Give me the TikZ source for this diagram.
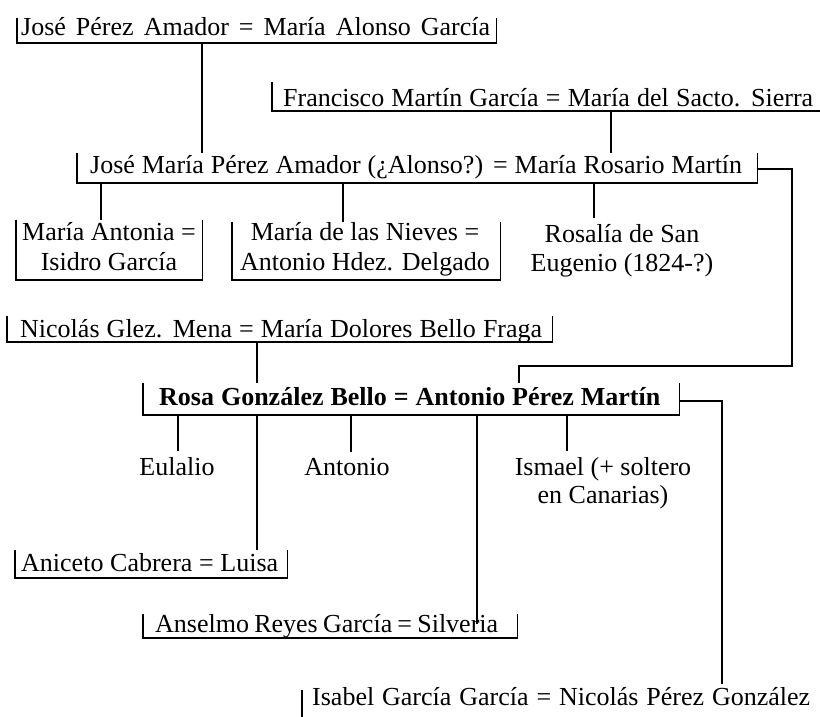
\documentclass[tikz,border=0pt]{standalone}
\usepackage{fontspec}
\setmainfont{Liberation Serif}
\newcommand\spread[2]{\makebox[#1][s]{#2}}
\begin{document}
\begin{tikzpicture}[x=1pt,y=-1pt,
  lbl/.style={font=\fontsize{26}{30}\selectfont, inner sep=0pt, anchor=base west},
  kid/.style={font=\fontsize{26}{30}\selectfont, inner xsep=0pt, inner ysep=6pt, anchor=base, align=center},
  frm/.style={rectangle, inner sep=0pt, anchor=south west},
  ln/.style={line width=1.2pt}]
\useasboundingbox[fill=white] (0,0) rectangle (820,716);

% frames (open-top boxes)
\node[frm, minimum width=479pt, minimum height=25pt] (b1) at (17,43) {};
\node[frm, minimum width=548pt, minimum height=29pt] (b2) at (272,111) {};
\node[frm, minimum width=680pt, minimum height=30pt] (b3) at (77,183) {};
\node[frm, minimum width=186pt, minimum height=60pt] (b4) at (16,280) {};
\node[frm, minimum width=268pt, minimum height=58pt] (b5) at (232,280) {};
\node[frm, minimum width=545pt, minimum height=26pt] (b7) at (7,342) {};
\node[frm, minimum width=536pt, minimum height=32pt] (b8) at (143,415) {};
\node[frm, minimum width=272pt, minimum height=28pt] (b9) at (15,578) {};
\node[frm, minimum width=374pt, minimum height=24pt] (b10) at (143,638) {};
\node[frm, minimum width=516pt, minimum height=28pt] (b12) at (302,718) {};

\draw[ln] (b1.north west) -- (b1.south west) -- (b1.south east) -- (b1.north east);
\draw[ln] (b2.north west) -- (b2.south west) -- (b2.south east);
\draw[ln] (b3.north west) -- (b3.south west) -- (b3.south east) -- (b3.north east);
\draw[ln] (b4.north west) -- (b4.south west) -- (b4.south east) -- (b4.north east);
\draw[ln] (b5.north west) -- (b5.south west) -- (b5.south east) -- (b5.north east);
\draw[ln] (b7.north west) -- (b7.south west) -- (b7.south east) -- (b7.north east);
\draw[ln] (b8.north west) -- (b8.south west) -- (b8.south east) -- (b8.north east);
\draw[ln] (b9.north west) -- (b9.south west) -- (b9.south east) -- (b9.north east);
\draw[ln] (b10.north west) -- (b10.south west) -- (b10.south east) -- (b10.north east);
\draw[ln] (b12.north west) -- (b12.south west);

% texts
\node[lbl] (t1) at (21,35) {\spread{469pt}{José Pérez Amador = María Alonso García}};
\node[lbl] (t2) at (283,106) {\spread{530pt}{Francisco Martín García = María del Sacto. Sierra}};
\node[lbl] (t3) at (90,173) {\spread{652pt}{José María Pérez Amador (¿Alonso?) = María Rosario Martín}};
\node[kid] (t4) at (109,270) {María Antonia =\\Isidro García};
\node[kid] (t5) at (365,270) {María de las Nieves =\\Antonio Hdez. Delgado};
\node[kid, font=\fontsize{26}{29}\selectfont] (t6) at (622,271) {Rosalía de San\\Eugenio (1824-?)};
\node[lbl] (t7) at (20,337) {\spread{522pt}{Nicolás Glez. Mena = María Dolores Bello Fraga}};
\node[lbl, font=\fontsize{26}{30}\selectfont\bfseries] (t8) at (159,405) {\spread{501pt}{Rosa González Bello = Antonio Pérez Martín}};
\node[kid] (t13) at (177,475) {Eulalio};
\node[kid] (t14) at (347,475) {Antonio};
\node[kid, font=\fontsize{26}{28}\selectfont] (t15) at (603,503) {Ismael (+ soltero\\en Canarias)};
\node[lbl] (t9) at (21,571) {\spread{257pt}{Aniceto Cabrera = Luisa}};
\node[lbl] (t10) at (155,632) {\spread{343pt}{Anselmo Reyes García = Silveria}};
\node[lbl, inner ysep=3pt] (t12) at (312,705) {\spread{498pt}{Isabel García García = Nicolás Pérez González}};

% connectors
\draw[ln] (202,0 |- b1.south) -- (202,0 |- b3.north);
\draw[ln] (611,0 |- b2.south) -- (611,0 |- b3.north);
\draw[ln] (101,0 |- b3.south) -- (101,0 |- b4.north);
\draw[ln] (343,0 |- b3.south) -- (343,0 |- b5.north);
\draw[ln] (594,0 |- b3.south) -- (594,0 |- t6.north);
\draw[ln] (b3.east |- 0,169) -- (792,169) -- (792,366) -- (519,366) -- (519,0 |- b8.north);
\draw[ln] (257,0 |- b7.south) -- (257,0 |- b8.north);
\draw[ln] (178,0 |- b8.south) -- (178,0 |- t13.north);
\draw[ln] (257,0 |- b8.south) -- (257,0 |- b9.north);
\draw[ln] (351,0 |- b8.south) -- (351,0 |- t14.north);
\draw[ln] (477,0 |- b8.south) -- (477,624);
\draw[ln] (567,0 |- b8.south) -- (567,0 |- t15.north);
\draw[ln] (b8.east |- 0,401) -- (722,401) -- (722,0 |- t12.north);
\end{tikzpicture}
\end{document}
